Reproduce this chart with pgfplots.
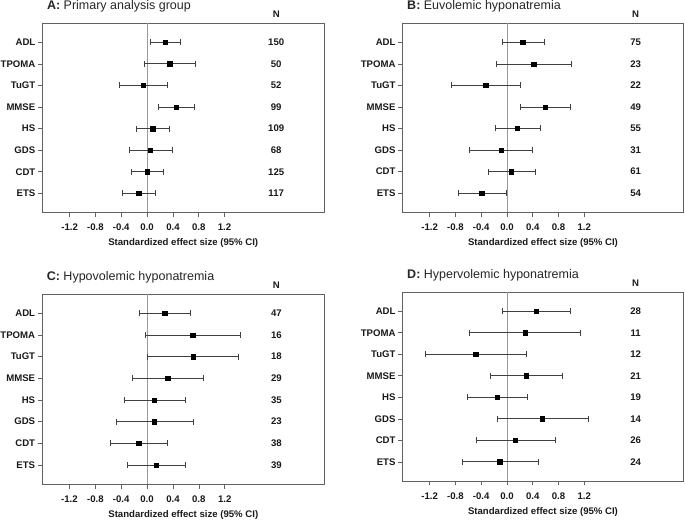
\documentclass[border=0pt]{standalone}
\usepackage{fontspec}
\setmainfont{Liberation Sans}
\usepackage{pgfplots}
\usepackage{pgfplotstable}
\pgfplotsset{compat=1.18}

\pgfplotstableread{
y m lo hi n
8 0.285 0.057 0.517 150
7 0.35 -0.036 0.755 50
6 -0.057 -0.424 0.316 52
5 0.45 0.176 0.73 99
4 0.088 -0.166 0.352 109
3 0.052 -0.28 0.398 68
2 0.0 -0.243 0.253 125
1 -0.129 -0.383 0.129 117
}\tabA
\pgfplotstableread{
y m lo hi n
8 0.243 -0.078 0.574 75
7 0.414 -0.171 1.004 23
6 -0.331 -0.869 0.202 22
5 0.595 0.212 0.978 49
4 0.16 -0.186 0.517 55
3 -0.093 -0.579 0.398 31
2 0.067 -0.295 0.435 61
1 -0.393 -0.75 -0.016 54
}\tabB
\pgfplotstableread{
y m lo hi n
8 0.274 -0.124 0.672 47
7 0.704 -0.031 1.443 16
6 0.709 0.0 1.417 18
5 0.321 -0.233 0.874 29
4 0.109 -0.347 0.59 35
3 0.109 -0.481 0.714 23
2 -0.129 -0.574 0.321 38
1 0.14 -0.31 0.59 39
}\tabC
\pgfplotstableread{
y m lo hi n
8 0.45 -0.078 0.993 28
7 0.279 -0.579 1.148 11
6 -0.486 -1.273 0.305 12
5 0.295 -0.253 0.854 21
4 -0.155 -0.616 0.321 19
3 0.548 -0.155 1.267 14
2 0.129 -0.481 0.745 26
1 -0.114 -0.693 0.481 24
}\tabD

\newcommand{\lblfont}{\fontsize{9.6}{11}\selectfont\bfseries}
\pgfplotsset{
  forest/.style={
    scale only axis,
    anchor=south west,
    xmin=-1.62, xmax=2.74,
    ymin=0.11, ymax=8.88,
    clip=false,
    axis line style={draw=black!62, line width=0.9pt},
    xtick={-1.2,-0.8,-0.4,0,0.4,0.8,1.2},
    xticklabels={-1.2,-0.8,-0.4,0.0,0.4,0.8,1.2},
    ytick={1,2,3,4,5,6,7,8},
    yticklabels={ETS,CDT,GDS,HS,MMSE,TuGT,TPOMA,ADL},
    xtick pos=bottom, ytick pos=left,
    tick align=outside,
    major tick length=4.5pt,
    tick style={draw=black!62, line width=0.6pt},
    ticklabel style={font=\lblfont, text=black!90},
    yticklabel style={inner sep=2.5pt},
    xticklabel style={anchor=base, yshift=-13.7pt},
    xlabel={Standardized effect size (95\% CI)},
    xlabel style={at={(axis description cs:0.5,0)}, anchor=base, yshift=-33.5pt, font=\lblfont, text=black!90},
  },
  zeroline/.style={draw=black!40, line width=0.9pt, mark=none, forget plot},
  est/.style={only marks, mark=square*, mark size=2.2pt, color=black,
    error bars/.cd, x dir=both, x explicit,
    error bar style={draw=black!75, line width=0.75pt},
    error mark options={draw=black!75, line width=0.75pt, mark size=3pt, rotate=90}},
  nval/.style={draw=none, mark=none, nodes near coords, point meta=explicit symbolic,
    nodes near coords style={anchor=center, font=\lblfont, text=black!90}},
}
\newcommand{\paneltitle}[2]{\node[anchor=base west, font=\fontsize{12.5}{14}\selectfont, text=black!85] at (rel axis cs:0,1) [xshift=1pt, yshift=13.5pt] {\textbf{#1:} #2};
  \node[anchor=base, font=\lblfont, text=black!90] at (axis cs:2.0,8.88) [yshift=6pt] {N};}
\newcommand{\panelplots}[1]{%
  \addplot[zeroline] coordinates {(0,0.11) (0,8.88)};
  \addplot[est] table[x=m, y=y, x error plus expr=\thisrow{hi}-\thisrow{m}, x error minus expr=\thisrow{m}-\thisrow{lo}] {#1};
  \addplot[nval] table[x expr=2.0, y=y, meta=n] {#1};}

\begin{document}
\begin{tikzpicture}
\path[use as bounding box] (0,0) rectangle (685pt,521pt);
\begin{axis}[forest, at={(42.5pt,308.5pt)}, width=281.5pt, height=189.2pt]
\panelplots{\tabA}
\paneltitle{A}{Primary analysis group}
\end{axis}
\begin{axis}[forest, at={(402.7pt,308.8pt)}, width=280.6pt, height=188.7pt]
\panelplots{\tabB}
\paneltitle{B}{Euvolemic hyponatremia}
\end{axis}
\begin{axis}[forest, at={(42.3pt,36.7pt)}, width=282pt, height=190pt]
\panelplots{\tabC}
\paneltitle{C}{Hypovolemic hyponatremia}
\end{axis}
\begin{axis}[forest, at={(402.7pt,40pt)}, width=280.6pt, height=188.7pt]
\panelplots{\tabD}
\paneltitle{D}{Hypervolemic hyponatremia}
\end{axis}
\end{tikzpicture}
\end{document}
